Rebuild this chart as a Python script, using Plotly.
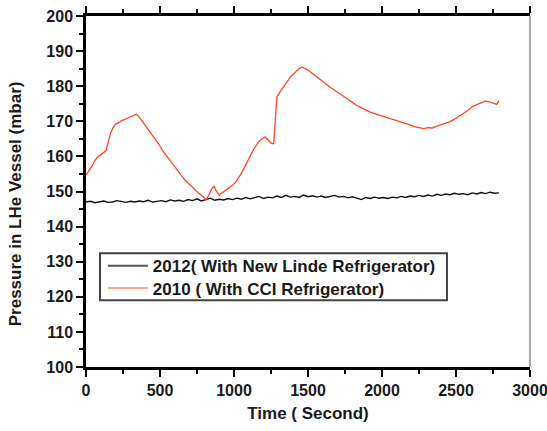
import plotly.graph_objects as go

# Red series: 2010 (With CCI Refrigerator)
t_2010 = [0, 20, 40, 60, 80, 100, 120, 135, 150, 165, 180, 200, 220, 240, 260, 280, 300, 320, 340,
          360, 380, 400, 430, 460, 490, 520, 550, 580, 610, 640, 670, 700, 730, 760, 790, 810,
          830, 850, 865, 880, 900, 920, 940, 960, 990, 1010, 1040, 1070, 1100, 1130, 1160, 1185,
          1210, 1230, 1250, 1268, 1280, 1290, 1310, 1330, 1350, 1380, 1410, 1440, 1460, 1480,
          1500, 1530, 1560, 1590, 1620, 1650, 1680, 1710, 1740, 1770, 1800, 1830, 1860, 1890,
          1920, 1950, 1980, 2010, 2040, 2070, 2100, 2130, 2160, 2190, 2220, 2250, 2280, 2310,
          2340, 2370, 2400, 2430, 2460, 2490, 2520, 2550, 2580, 2610, 2640, 2670, 2700, 2730,
          2760, 2775, 2790]
p_2010 = [154.7, 155.8, 157.2, 158.8, 159.9, 160.5, 161.0, 161.6, 164.0, 166.5, 168.0, 169.2, 169.6,
          170.2, 170.5, 171.0, 171.3, 171.6, 172.0,
          171.2, 170.0, 169.0, 167.3, 165.4, 163.6, 161.5, 159.8, 158.0, 156.4, 154.8, 153.2, 152.0,
          150.7, 149.6, 148.6, 147.6,
          149.0, 150.8, 151.5, 150.2, 149.0, 149.6, 150.4, 150.9, 151.8, 152.6, 154.5, 156.8, 159.3,
          161.8, 163.8, 164.9,
          165.6, 164.6, 163.8, 163.6, 170.5, 177.0, 178.3, 179.5, 181.0, 182.5, 183.8, 185.0, 185.4,
          184.9,
          184.6, 183.6, 182.7, 181.8, 180.7, 179.7, 178.9, 178.0, 177.3, 176.3, 175.4, 174.5, 173.9,
          173.2,
          172.6, 172.2, 171.8, 171.5, 171.2, 170.8, 170.2, 169.8, 169.5, 169.0, 168.5, 168.3, 167.9,
          168.2,
          168.1, 168.6, 169.0, 169.5, 169.9, 170.6, 171.4, 172.2, 173.1, 174.2, 174.8, 175.3, 175.8,
          175.5,
          174.9, 174.8, 175.9]

# Black series: 2012 (With New Linde Refrigerator), sampled every 30 s
t_2012 = list(range(0, 2800, 30))
p_2012 = [147.0, 147.2, 146.8, 147.1, 147.3, 146.9, 147.0, 147.4, 147.1, 146.9, 147.2, 147.0, 147.3,
          147.1, 147.5, 147.0, 147.2,
          147.4, 147.1, 147.6, 147.3, 147.5, 147.2, 147.7, 147.4, 147.9, 147.3, 147.6, 148.1, 147.5,
          147.8, 147.6, 148.0, 147.7,
          148.1, 147.8, 148.3, 147.9, 148.2, 148.6, 148.0, 148.4, 148.2, 148.7, 148.3, 148.9, 148.4,
          148.6, 148.3, 149.0, 148.5,
          148.8, 148.4, 148.7, 148.3, 148.6, 148.9, 148.4, 148.6, 148.2, 148.5, 148.1, 147.7, 148.3,
          148.0, 148.4, 148.1, 148.3,
          148.0, 148.4, 148.2, 148.6, 148.3, 148.7, 148.5, 148.9, 148.6, 149.0, 148.7, 149.2, 148.9,
          149.3, 149.1, 149.5, 149.2,
          149.4, 149.1, 149.6, 149.3, 149.7, 149.4, 149.8, 149.5, 149.6]

legend_names = ["2012( With New Linde Refrigerator)", "2010 ( With CCI Refrigerator)"]
x_ticks = [0, 500, 1000, 1500, 2000, 2500, 3000]
x_tick_labels = ["0", "500", "1000", "1500", "2000", "2500", "3000"]
y_ticks = [100, 110, 120, 130, 140, 150, 160, 170, 180, 190, 200]
x_title = "Time ( Second)"
y_title = "Pressure in LHe Vessel (mbar)"

FONT = "Liberation Sans, Arial, sans-serif"
TXT = "#1a1a1a"

fig = go.Figure()
fig.add_trace(go.Scatter(x=t_2012, y=p_2012, mode="lines", line=dict(color="#111111", width=1.4),
                         showlegend=False))
fig.add_trace(go.Scatter(x=t_2010, y=p_2010, mode="lines", line=dict(color="#ff4424", width=1.3),
                         showlegend=False))
# legend entries (lighter sample colours as in the reference), one per legend for tight spacing
fig.add_trace(go.Scatter(x=[None], y=[None], mode="lines", name=legend_names[0],
                         line=dict(color="#555555", width=2), legend="legend"))
fig.add_trace(go.Scatter(x=[None], y=[None], mode="lines", name=legend_names[1],
                         line=dict(color="#ffa58a", width=2), legend="legend2"))

leg_common = dict(xanchor="left", yanchor="middle", bgcolor="rgba(0,0,0,0)", borderwidth=0,
                  font=dict(size=17, family=FONT, weight="bold", color=TXT), itemwidth=40)

fig.update_layout(
    width=547, height=431,
    margin=dict(l=86, r=17, t=16, b=64, autoexpand=False),
    paper_bgcolor="white", plot_bgcolor="white",
    font=dict(family=FONT, color=TXT, size=16, weight="bold"),
    legend=dict(x=0.038, y=0.287, **leg_common),
    legend2=dict(x=0.038, y=0.224, **leg_common),
    xaxis=dict(range=[0, 3000], tickvals=x_ticks, ticktext=x_tick_labels, automargin=False,
               showgrid=False, zeroline=False, ticklabeloverflow="allow",
               showline=True, linecolor="black", linewidth=2.5, mirror="ticks",
               ticks="outside", ticklen=7, tickwidth=2, tickcolor="black",
               minor=dict(ticks="outside", ticklen=4, tickwidth=2, dtick=250, tickcolor="black"),
               tickfont=dict(size=16, family=FONT, weight="bold"),
               title=dict(text=x_title, font=dict(size=17, family=FONT, weight="bold"),
                          standoff=10)),
    yaxis=dict(range=[100, 200], tickvals=y_ticks, automargin=False,
               showgrid=False, zeroline=False,
               showline=True, linecolor="black", linewidth=2.5,
               ticks="outside", ticklen=7, tickwidth=2, tickcolor="black",
               minor=dict(ticks="outside", ticklen=4, tickwidth=2, dtick=5, tickcolor="black"),
               tickfont=dict(size=16, family=FONT, weight="bold")),
    annotations=[dict(text=y_title, xref="paper", yref="paper", x=-0.158, y=0.466,
                      xanchor="center", yanchor="middle", textangle=-90, showarrow=False,
                      font=dict(size=17, family=FONT, weight="bold", color=TXT))],
    shapes=[dict(type="line", xref="paper", yref="paper", x0=1, x1=1, y0=0, y1=1,
                 line=dict(color="#8a8a8a", width=1.5)),
            dict(type="rect", xref="paper", yref="paper", x0=0.0315, x1=0.813, y0=0.190, y1=0.324,
                 line=dict(color="#444444", width=2))],
)

fig.write_html("out.html", config={"displayModeBar": False},
               post_script="document.body.style.margin='0';document.body.style.overflow='hidden';")
